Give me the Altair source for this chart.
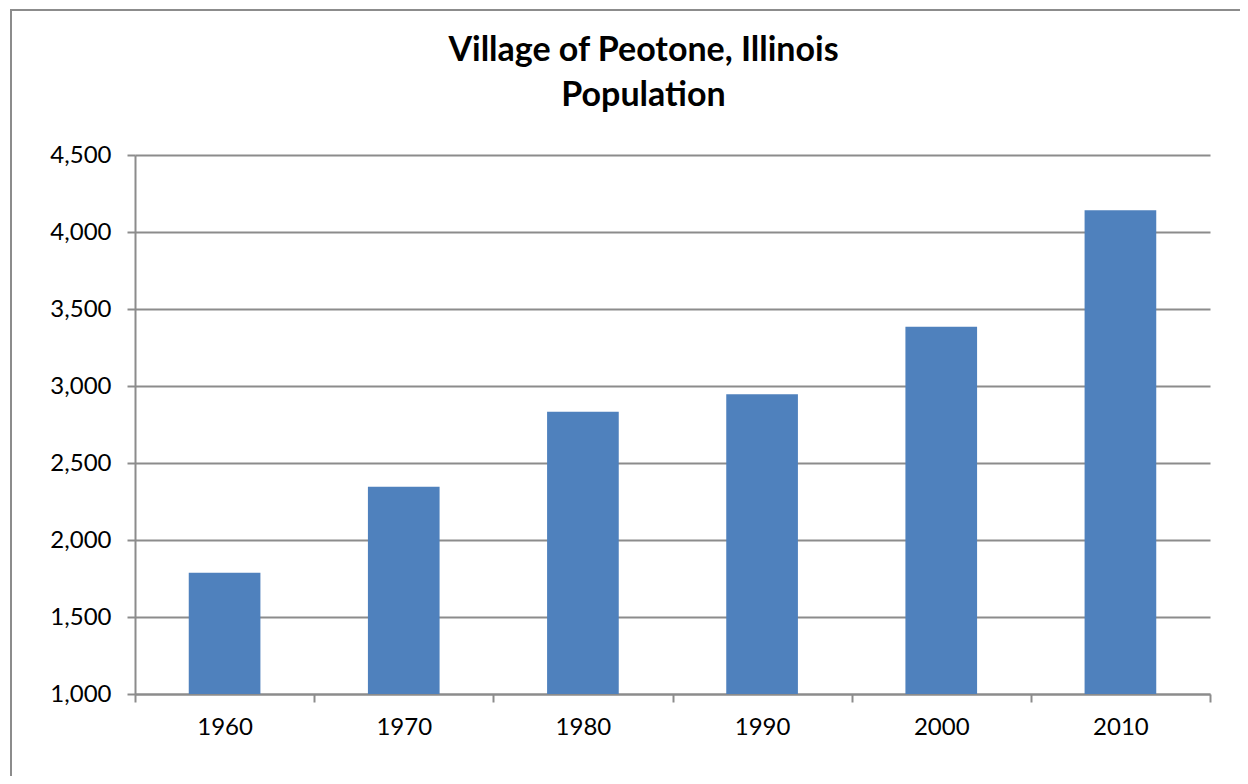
import altair as alt
import pandas as pd

years = ["1960", "1970", "1980", "1990", "2000", "2010"]
population = [1788, 2345, 2832, 2947, 3385, 4142]
title_lines = ["Village of Peotone, Illinois", "Population"]

df = pd.DataFrame({"year": years, "population": population})

FONT = "Lato"
GRAY = "#8c8c8c"

bars = alt.Chart(df).mark_bar(
    color="#4F81BD", width=alt.RelativeBandSize(0.4)
).encode(
    x=alt.X("year:N", sort=years,
            scale=alt.Scale(paddingInner=0, paddingOuter=0),
            axis=alt.Axis(title=None, labelAngle=0, tickBand="extent",
                          tickSize=8, tickColor=GRAY, tickWidth=2,
                          domainColor=GRAY, domainWidth=2,
                          labelFont=FONT, labelFontSize=24, labelColor="#000",
                          labelPadding=13, grid=False)),
    y=alt.Y("population:Q",
            scale=alt.Scale(domain=[1000, 4500], nice=False, zero=False),
            axis=alt.Axis(title=None, values=list(range(1000, 4501, 500)),
                          format=",d", grid=True, gridColor=GRAY, gridWidth=2,
                          tickSize=8, tickColor=GRAY, tickWidth=2,
                          domainColor=GRAY, domainWidth=2,
                          labelFont=FONT, labelFontSize=24, labelColor="#000",
                          labelPadding=16)),
    y2=alt.datum(1000),
)

frame = alt.Chart(df).mark_rect(
    fill=None, stroke=GRAY, strokeWidth=2
).encode(
    x=alt.value(-124), x2=alt.value(1110),
    y=alt.value(-145), y2=alt.value(640),
)

chart = alt.layer(frame, bars).properties(
    width=1075, height=539,
    padding={"left": 127, "top": 147, "right": 30, "bottom": 82},
    autosize=alt.AutoSizeParams(type="none"),
    title=alt.TitleParams(text=title_lines, font=FONT, fontSize=34,
                          fontWeight="bold", color="#000", anchor="middle",
                          frame="group", dx=-29, offset=-104, lineHeight=45),
).configure_view(stroke=None)

chart.save("out.html", embed_options={"renderer": "svg", "actions": False})
